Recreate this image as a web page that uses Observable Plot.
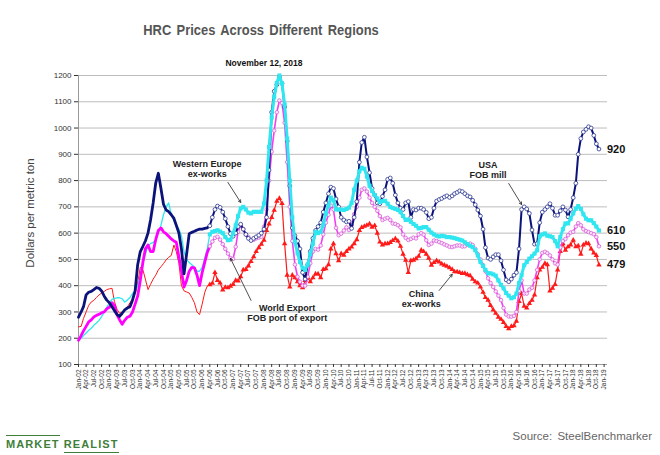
<!DOCTYPE html>
<html><head><meta charset="utf-8">
<script src="https://cdn.jsdelivr.net/npm/d3@7"></script>
<script src="https://cdn.jsdelivr.net/npm/@observablehq/plot@0.6"></script>
<style>
body{margin:0;background:#fff;font-family:"Liberation Sans",Arial,sans-serif;}
#wrap{position:relative;width:660px;height:455px;overflow:hidden;background:#fff;}
#chart{position:absolute;left:0;top:0;}
.t{position:absolute;white-space:nowrap;line-height:1;}
</style></head><body>
<div id="wrap">
<div id="chart"></div>
<div class="t" style="left:0;width:522px;text-align:center;top:22.5px;font-size:14.5px;font-weight:bold;color:#555;word-spacing:2px;transform:scaleX(0.89);transform-origin:261px 50%;">HRC Prices Across Different Regions</div>
<div class="t" style="left:0;width:528px;text-align:center;top:58.5px;font-size:8.5px;font-weight:bold;color:#111;">November 12, 2018</div>
<div class="t" style="left:31px;top:213px;transform:translate(-50%,-50%) rotate(-90deg);font-size:11.5px;color:#444;">Dollars per metric ton</div>
<div class="t" style="right:8px;top:431px;font-size:11.5px;color:#666;word-spacing:2px;">Source: SteelBenchmarker</div>
<div class="t" style="left:6px;top:439px;font-size:11px;font-weight:bold;color:#3f7f3a;letter-spacing:1.1px;"><span style="border-top:1.3px solid #3f7f3a;padding-top:2px;">MARKET</span> <span style="border-bottom:1.3px solid #3f7f3a;padding-bottom:2px;">REALIST</span></div>
</div>
<script>
// Monthly readings, Jan-2002 .. Nov-2018 (US$ per metric ton)
const usa = [
280,300,320,365,375,378,385,393,390,380,360,345,
335,320,305,290,283,295,308,315,320,345,380,480,
530,550,570,600,650,715,790,828,770,710,688,682,
670,656,630,600,540,445,520,598,603,607,612,615,
615,618,620,628,660,690,703,698,680,655,625,598,
588,600,625,634,615,595,580,572,580,586,592,600,
615,660,840,1060,1140,1165,1195,1170,1080,950,780,620,
590,570,540,450,425,480,530,580,610,625,640,680,
715,750,775,770,730,700,660,650,643,645,618,660,
720,870,945,965,890,830,770,745,715,712,740,765,
805,810,790,745,715,695,690,715,720,660,690,688,
695,695,690,679,655,660,695,722,728,732,738,742,
736,742,750,755,761,758,750,742,738,725,708,688,
665,615,545,505,500,510,518,518,495,460,422,415,
425,440,450,540,690,700,692,675,612,558,560,640,
680,690,700,712,695,668,668,685,700,688,662,690,
735,790,900,960,985,995,1005,1000,972,940,920];
const westernEurope = [
192,200,210,220,230,238,249,258,268,282,300,318,
335,348,352,354,354,350,338,345,355,370,380,400,
440,485,520,550,560,565,573,600,630,670,700,715,
670,650,630,615,590,528,500,488,480,470,455,455,
470,505,540,595,605,608,611,606,600,585,573,575,
600,630,665,694,700,690,678,675,681,681,681,681,
713,800,928,1040,1118,1172,1200,1170,1090,960,800,660,
565,523,490,468,460,480,520,560,605,600,605,630,
675,705,735,725,690,690,690,688,692,697,715,765,
800,835,849,845,815,780,760,745,732,718,722,723,
712,700,696,692,688,680,665,650,652,643,635,628,
618,620,623,623,613,602,595,590,587,590,588,585,
585,583,581,578,575,572,565,558,552,547,535,515,
490,475,460,447,447,443,438,420,403,390,372,362,
352,356,370,410,440,478,490,503,512,522,535,588,
595,599,590,588,585,570,550,585,615,637,637,655,
675,693,703,692,672,655,649,649,638,625,610];
const china = [
192,210,228,245,262,270,281,287,291,297,300,312,
318,335,325,290,270,253,268,280,284,300,330,360,
420,490,540,555,530,530,575,610,620,605,598,588,
578,570,565,510,455,395,420,455,470,468,440,400,
450,490,525,550,568,582,586,575,558,540,522,505,
502,548,605,630,615,595,585,573,575,580,583,586,
624,690,800,910,990,1060,1105,1095,1020,870,700,570,
480,434,415,400,400,434,485,530,540,537,553,595,
640,670,705,690,620,592,598,610,622,612,630,672,
700,735,765,770,758,735,715,700,685,665,650,655,
658,650,637,635,630,622,595,582,574,578,583,580,
595,600,594,573,555,560,572,570,566,562,557,553,
548,547,550,553,553,549,550,556,560,555,540,520,
500,478,455,428,410,395,378,362,345,315,290,283,
282,285,300,380,420,370,370,385,392,420,460,500,
525,529,524,515,500,485,480,545,570,578,592,602,
605,625,638,630,615,608,604,600,596,585,550];
const worldExport = [
243,245,275,300,325,338,344,355,365,372,378,385,
388,390,340,310,295,300,310,319,335,350,370,410,
470,460,425,385,405,425,440,460,472,484,498,508,
515,555,530,485,400,380,376,372,355,335,300,290,
330,375,398,404,409,450,420,410,384,394,392,398,
405,420,418,434,460,462,475,492,510,530,545,558,
573,610,635,660,687,722,732,713,560,440,395,440,
430,415,400,392,420,430,415,430,445,445,430,462,
465,480,540,560,522,495,522,516,530,540,547,560,
575,610,622,626,630,635,623,629,600,566,555,560,
560,565,572,579,570,550,520,497,450,495,497,503,
512,535,530,520,505,478,488,495,490,483,478,474,
468,462,453,453,450,447,447,442,438,425,415,410,
395,375,355,345,325,308,295,280,272,260,245,236,
245,248,265,340,370,322,315,332,345,365,430,460,
470,485,480,380,390,405,460,530,560,535,548,555,
573,548,552,520,555,562,560,540,525,515,479];

const yTicks = [100,200,300,400,500,600,700,800,900,1000,1100,1200];
const months = d3.utcMonth.range(new Date(Date.UTC(2002,0,1)), new Date(Date.UTC(2018,11,1)));
const xTicks = d3.utcMonth.every(3).range(new Date(Date.UTC(2002,0,1)), new Date(Date.UTC(2019,0,2)));
const fmt = d3.utcFormat("%b-%y");
const D = (y,m) => new Date(Date.UTC(y,m,1));

// annotation labels (data coordinates)
const notes = [
  {x: D(2006,2), y: 846, text: "Western Europe\nex-works"},
  {x: D(2008,9), y: 298, text: "World Export\nFOB port of export"},
  {x: D(2015,3), y: 842, text: "USA\nFOB mill"},
  {x: D(2013,1), y: 351, text: "China\nex-works"}
];
const arrows = [
  {x1: D(2006,10), y1: 793, x2: D(2007,3), y2: 717},
  {x1: D(2007,7), y1: 344, x2: D(2006,11), y2: 504},
  {x1: D(2015,11), y1: 789, x2: D(2016,4), y2: 709},
  {x1: D(2013,8), y1: 382, x2: D(2014,1), y2: 443}
];

const split = 51;
const seg = (vals, a, b) => vals.slice(a, b).map((v, i) => ({date: months[a + i], v}));
const early = s => seg(s, 0, split + 1);
const late = s => seg(s, split, s.length);
const last = n => months[n - 1];

const C = {usa: "#0b1279", we: "#30e6f0", cn: "#ff00ff", wx: "#ff1a1a"};

const chart = Plot.plot({
  width: 660, height: 400,
  marginTop: 75, marginBottom: 36, marginLeft: 78, marginRight: 53,
  style: {fontFamily: "Liberation Sans, Arial, sans-serif", color: "#333", background: "transparent"},
  x: {type: "utc", domain: [D(2002,0), new Date(Date.UTC(2019,1,10))], axis: null},
  y: {domain: [100, 1200], axis: null},
  marks: [
    Plot.gridY(yTicks, {stroke: "#bdbdbd", strokeOpacity: 1, strokeWidth: 1}),
    Plot.ruleX([D(2002,0)], {stroke: "#999"}),
    Plot.ruleY([100], {stroke: "#999"}),
    Plot.axisY(yTicks, {anchor: "left", tickSize: 4, tickPadding: 3, fontSize: 8, label: null, tickFormat: d => String(d)}),
    Plot.axisX(xTicks, {anchor: "bottom", tickFormat: fmt, tickRotate: -90, fontSize: 6.5, tickSize: 3, tickPadding: 2, label: null}),
    // early segments (no markers)
    Plot.line(early(worldExport), {x: "date", y: "v", stroke: C.wx, strokeWidth: 1}),
    Plot.line(early(westernEurope), {x: "date", y: "v", stroke: C.we, strokeWidth: 1.3}),
    Plot.line(early(china), {x: "date", y: "v", stroke: C.cn, strokeWidth: 2.8}),
    Plot.line(early(usa), {x: "date", y: "v", stroke: C.usa, strokeWidth: 2.8}),
    // late segments with markers
    Plot.line(late(worldExport), {x: "date", y: "v", stroke: C.wx, strokeWidth: 1.2}),
    Plot.dot(late(worldExport), {x: "date", y: "v", symbol: "triangle", r: 2, fill: C.wx, stroke: "none"}),
    Plot.line(late(china), {x: "date", y: "v", stroke: "#f23ef2", strokeWidth: 1.6}),
    Plot.dot(late(china), {x: "date", y: "v", symbol: "circle", r: 1.8, fill: "#fbe3fb", stroke: "#d765d7", strokeWidth: 0.8}),
    Plot.line(late(usa), {x: "date", y: "v", stroke: C.usa, strokeWidth: 2}),
    Plot.dot(late(usa), {x: "date", y: "v", symbol: "circle", r: 1.9, fill: "#fff", stroke: "#2a3590", strokeWidth: 0.8}),
    Plot.line(late(westernEurope), {x: "date", y: "v", stroke: C.we, strokeWidth: 3}),
    Plot.dot(late(westernEurope), {x: "date", y: "v", symbol: "square", r: 2.3, fill: C.we, stroke: "none"}),
    // annotations
    Plot.arrow(arrows, {x1: "x1", y1: "y1", x2: "x2", y2: "y2", stroke: "#222", strokeWidth: 0.8, headLength: 5}),
    Plot.text(notes, {x: "x", y: "y", text: "text", fontSize: 9, fontWeight: "bold", lineHeight: 1.15, fill: "#222"}),
    // end values
    Plot.text([
      {d: last(usa.length), v: usa[usa.length - 1]},
      {d: last(westernEurope.length), v: westernEurope[westernEurope.length - 1]},
      {d: last(china.length), v: china[china.length - 1]},
      {d: last(worldExport.length), v: worldExport[worldExport.length - 1]}
    ], {x: "d", y: "v", text: d => String(d.v), dx: 8, textAnchor: "start", fontSize: 11, fontWeight: "bold", fill: "#111"})
  ]
});
document.getElementById("chart").appendChild(chart);
</script>
</body></html>
